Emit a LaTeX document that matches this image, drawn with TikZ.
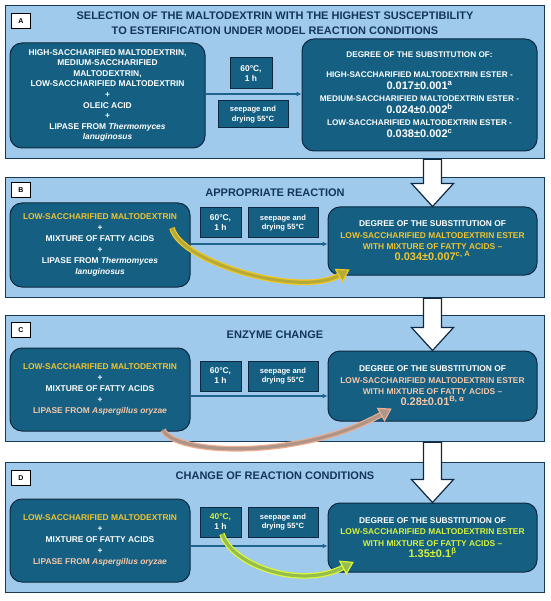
\documentclass[tikz,border=0pt]{standalone}
\usepackage{fontspec}
\setmainfont{Liberation Sans}
\usetikzlibrary{calc,arrows.meta,decorations.markings}
\definecolor{panelfill}{RGB}{160,202,236}
\definecolor{paneldraw}{RGB}{24,58,88}
\definecolor{boxfill}{RGB}{21,96,130}
\definecolor{boxdraw}{RGB}{14,40,65}
\definecolor{titlecol}{RGB}{20,55,88}
\definecolor{goldt}{RGB}{238,196,48}
\definecolor{peacht}{RGB}{245,198,168}
\definecolor{limet}{RGB}{214,242,58}
\definecolor{flowcol}{RGB}{30,100,140}
\definecolor{goldarrow}{RGB}{244,200,30}
\definecolor{peacharrow}{RGB}{238,172,140}
\definecolor{limearrow}{RGB}{226,248,50}
\newcommand{\valf}{\fontsize{11}{12}\selectfont}
\newcommand{\curvyarrow}[6]{%
  \draw[line width=5.6pt, draw=#1, line cap=butt] #3 .. controls #4 and #5 .. #6;
  \draw[line width=3.2pt, draw=#2, line cap=butt] #3 .. controls #4 and #5 .. #6;
  \path[decorate, decoration={markings, mark=at position 0.9999 with {\draw[draw=#1, fill=#2, line width=1.2pt, line join=miter] (-1pt,-7pt) -- (10pt,0pt) -- (-1pt,7pt) -- cycle;}}] #3 .. controls #4 and #5 .. #6;
}
\begin{document}
\begin{tikzpicture}[x=1pt,y=-1pt,
  panel/.style={draw=paneldraw, fill=panelfill, line width=1.3pt, inner sep=0pt, anchor=north west, minimum width=539pt},
  lbl/.style={draw=black, fill=white, line width=0.8pt, minimum width=19pt, minimum height=15pt, inner sep=0pt, anchor=north west, font=\fontsize{7}{8}\selectfont\bfseries},
  ttl/.style={align=center, text=titlecol, font=\fontsize{11}{15}\selectfont\bfseries},
  bigbox/.style={draw=boxdraw, fill=boxfill, line width=1pt, rounded corners=12pt, align=center, text=white, inner sep=2pt, font=\fontsize{8.4}{11}\selectfont\bfseries},
  smallbox/.style={draw=boxdraw, fill=boxfill, line width=1pt, align=center, text=white, inner sep=1pt, font=\fontsize{8.4}{10}\selectfont\bfseries},
  seepbox/.style={smallbox, font=\fontsize{7.6}{9.5}\selectfont\bfseries},
  flow/.style={draw=flowcol, line width=1.4pt, -{Latex[length=5pt,width=5pt]}},
  bigarrow/.style={draw=boxdraw, fill=white, line width=1.2pt, line join=miter}
]
\useasboundingbox (0,0) rectangle (550,601);
\fill[white] (0,0) rectangle (550,601);

% panels
\node[panel, minimum height=153pt] (pA) at (5,5) {};
\node[panel, minimum height=120pt] (pB) at (5,177) {};
\node[panel, minimum height=126pt] (pC) at (5,315) {};
\node[panel, minimum height=130pt] (pD) at (5,462) {};

% labels
\node[lbl] (labA) at (11,13) {A};
\node[lbl] (labB) at (11,182) {B};
\node[lbl] (labC) at (11,322) {C};
\node[lbl] (labD) at (11,470) {D};

% titles
\node[ttl] (tA) at (275,23.5) {SELECTION OF THE MALTODEXTRIN WITH THE HIGHEST SUSCEPTIBILITY\\TO ESTERIFICATION UNDER MODEL REACTION CONDITIONS};
\node[ttl] (tB) at (275,193) {APPROPRIATE REACTION};
\node[ttl] (tC) at (275,335) {ENZYME CHANGE};
\node[ttl] (tD) at (275,476) {CHANGE OF REACTION CONDITIONS};

% ---- A
\node[bigbox, minimum width=195pt, minimum height=105pt, font=\fontsize{8.4}{10.6}\selectfont\bfseries] (lA) at (107.5,95.5)
 {HIGH-SACCHARIFIED MALTODEXTRIN,\\MEDIUM-SACCHARIFIED\\MALTODEXTRIN,\\LOW-SACCHARIFIED MALTODEXTRIN\\+\\OLEIC ACID\\+\\LIPASE FROM \textit{Thermomyces}\\\textit{lanuginosus}};
\node[smallbox, minimum width=42pt, minimum height=31pt] (cA) at (251,73.5) {60°C,\\1 h};
\node[seepbox, minimum width=70pt, minimum height=27pt] (sA) at (253,114.5) {seepage and\\drying 55°C};
\node[bigbox, minimum width=235pt, minimum height=112pt, font=\fontsize{8.2}{12}\selectfont\bfseries] (rA) at (419.5,95)
 {DEGREE OF THE SUBSTITUTION OF:\\[8pt]HIGH-SACCHARIFIED MALTODEXTRIN ESTER -\\{\valf 0.017±0.001\textsuperscript{a}}\\MEDIUM-SACCHARIFIED MALTODEXTRIN ESTER -\\{\valf 0.024±0.002\textsuperscript{b}}\\LOW-SACCHARIFIED MALTODEXTRIN ESTER -\\{\valf 0.038±0.002\textsuperscript{c}}};
\draw[flow] (lA.east |- 0,94) -- (rA.west |- 0,94);

% ---- B
\node[bigbox, minimum width=180pt, minimum height=84pt] (lB) at (100,245)
 {\textcolor{goldt}{LOW-SACCHARIFIED MALTODEXTRIN}\\+\\MIXTURE OF FATTY ACIDS\\+\\LIPASE FROM \textit{Thermomyces}\\\textit{lanuginosus}};
\node[smallbox, minimum width=41pt, minimum height=30pt] (cB) at (220.5,223) {60°C,\\1 h};
\node[seepbox, minimum width=70pt, minimum height=30pt] (sB) at (283,223) {seepage and\\drying 55°C};
\node[bigbox, minimum width=209pt, minimum height=68pt, font=\fontsize{8.4}{11.3}\selectfont\bfseries] (rB) at (432.5,241)
 {DEGREE OF THE SUBSTITUTION OF\\\textcolor{goldt}{LOW-SACCHARIFIED MALTODEXTRIN ESTER}\\\textcolor{goldt}{WITH MIXTURE OF FATTY ACIDS –}\\\textcolor{goldt}{\valf 0.034±0.007\textsuperscript{c, A}}};
\draw[flow] (lB.east |- 0,244) -- (rB.west |- 0,244);

% ---- C
\node[bigbox, minimum width=180pt, minimum height=83pt] (lC) at (100,389.5)
 {\textcolor{goldt}{LOW-SACCHARIFIED MALTODEXTRIN}\\+\\MIXTURE OF FATTY ACIDS\\+\\\textcolor{peacht}{LIPASE FROM \textit{Aspergillus oryzae}}};
\node[smallbox, minimum width=41pt, minimum height=30pt] (cC) at (220.5,376) {60°C,\\1 h};
\node[seepbox, minimum width=70pt, minimum height=30pt] (sC) at (283,376) {seepage and\\drying 55°C};
\node[bigbox, minimum width=209pt, minimum height=70pt, font=\fontsize{8.4}{11.3}\selectfont\bfseries] (rC) at (432.5,386)
 {DEGREE OF THE SUBSTITUTION OF\\\textcolor{peacht}{LOW-SACCHARIFIED MALTODEXTRIN ESTER}\\\textcolor{peacht}{WITH MIXTURE OF FATTY ACIDS –}\\\textcolor{peacht}{\valf 0.28±0.01\textsuperscript{B, α}}};
\draw[flow] (lC.east |- 0,396) -- (rC.west |- 0,396);

% ---- D
\node[bigbox, minimum width=180pt, minimum height=83pt] (lD) at (100,540.5)
 {\textcolor{goldt}{LOW-SACCHARIFIED MALTODEXTRIN}\\+\\MIXTURE OF FATTY ACIDS\\+\\\textcolor{peacht}{LIPASE FROM \textit{Aspergillus oryzae}}};
\node[smallbox, minimum width=41pt, minimum height=30pt] (cD) at (220.5,522) {\textcolor{limet}{40°C,}\\1 h};
\node[seepbox, minimum width=70pt, minimum height=30pt] (sD) at (283,522) {seepage and\\drying 55°C};
\node[bigbox, minimum width=209pt, minimum height=69pt, font=\fontsize{8.4}{11.3}\selectfont\bfseries] (rD) at (432.5,537.5)
 {DEGREE OF THE SUBSTITUTION OF\\\textcolor{limet}{LOW-SACCHARIFIED MALTODEXTRIN ESTER}\\\textcolor{limet}{WITH MIXTURE OF FATTY ACIDS –}\\\textcolor{limet}{\valf 1.35±0.1\textsuperscript{β}}};
\draw[flow] (lD.east |- 0,546) -- (rD.west |- 0,546);

% ---- big white arrows between panels
\foreach \pa/\rb in {pA/rB,pB/rC,pC/rD}{
  \draw[bigarrow] let \p1=(\rb.north), \p2=(\pa.south) in
   (\x1-9pt,\y2) -- (\x1+9pt,\y2) -- (\x1+9pt,\y1+23pt) -- (\x1+21pt,\y1+23pt) -- (\x1,\y1)
   -- (\x1-21pt,\y1+23pt) -- (\x1-9pt,\y1+23pt) -- cycle;
}

% ---- curved arrows
\coordinate (bS) at (172,228); \coordinate (bE) at (340,275);
\coordinate (cS) at (163,430); \coordinate (cE) at (382,414);
\coordinate (dS) at (222,534); \coordinate (dE) at (344,567);
\curvyarrow{goldarrow}{goldarrow!72!boxfill}{(bS)}{(180,262)}{(300,298)}{(bE)}
\curvyarrow{peacharrow}{peacharrow!70!boxfill}{(cS)}{(175,455)}{(300,460)}{(cE)}
\curvyarrow{limearrow}{limearrow!62!boxfill}{(dS)}{(232,565)}{(300,590)}{(dE)}
\end{tikzpicture}
\end{document}
